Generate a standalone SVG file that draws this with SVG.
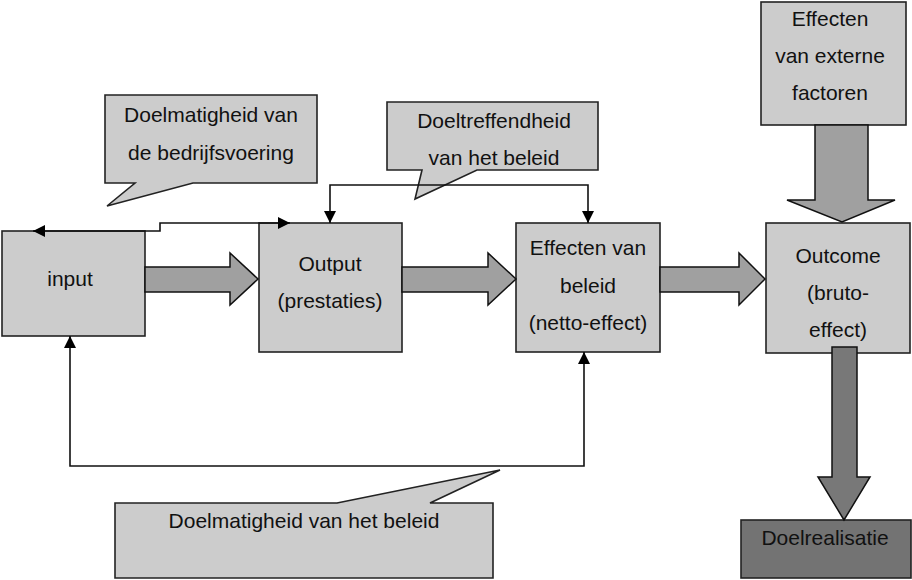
<svg xmlns="http://www.w3.org/2000/svg" width="912" height="580" viewBox="0 0 912 580">
<style>
.box{fill:#cccccc;stroke:#222;stroke-width:1.6}
.dark{fill:#737373;stroke:#222;stroke-width:1.6}
.fat{fill:#a0a0a0;stroke:#111;stroke-width:1.5}
.fatd{fill:#787878;stroke:#111;stroke-width:1.5}
.ln{fill:none;stroke:#111;stroke-width:1.6}
text{font-family:"Liberation Sans",Arial,sans-serif;font-size:21px;fill:#111;text-anchor:middle}
</style>
<defs>
<marker id="ah" viewBox="0 0 12 12" refX="12" refY="6" markerWidth="12" markerHeight="12" markerUnits="userSpaceOnUse" orient="auto-start-reverse">
<path d="M0,0 L12,6 L0,12 Z" fill="#000"/>
</marker>
</defs>
<rect width="912" height="580" fill="#fff"/>
<g id="input">
<rect class="box" x="2" y="231" width="143" height="105"/>
<text x="70" y="286">input</text>
</g>
<g id="output">
<rect class="box" x="259" y="223" width="143" height="129"/>
<text x="330" y="271">Output</text>
<text x="330" y="308">(prestaties)</text>
</g>
<g id="effecten">
<rect class="box" x="516" y="223" width="144" height="129"/>
<text x="588" y="255">Effecten van</text>
<text x="588" y="293">beleid</text>
<text x="588" y="330">(netto-effect)</text>
</g>
<g id="outcome">
<rect class="box" x="766" y="223" width="144" height="130"/>
<text x="838" y="263">Outcome</text>
<text x="838" y="300">(bruto-</text>
<text x="838" y="337">effect)</text>
</g>
<g id="extern">
<rect class="box" x="761" y="2" width="145" height="123"/>
<text x="830" y="26">Effecten</text>
<text x="830" y="63">van externe</text>
<text x="830" y="100">factoren</text>
</g>
<g id="doelrealisatie">
<rect class="dark" x="741" y="520" width="170" height="58"/>
<text x="825" y="545">Doelrealisatie</text>
</g>
<g id="callout-bedrijfsvoering">
<path class="box" d="M105,95 H317 V183 H193 L107,206 L135,183 H105 Z"/>
<text x="211" y="122">Doelmatigheid van</text>
<text x="211" y="160">de bedrijfsvoering</text>
</g>
<g id="callout-doeltreffendheid">
<path class="box" d="M387,102 H598 V170 H477 L415,199 L422,170 H387 Z"/>
<text x="494" y="128">Doeltreffendheid</text>
<text x="494" y="165">van het beleid</text>
</g>
<g id="callout-doelmatigheid-beleid">
<path class="box" d="M115,503 H337 L500,470 L430,503 H493 V578 H115 Z"/>
<text x="304" y="528">Doelmatigheid van het beleid</text>
</g>
<g id="connectors">
<path class="ln" d="M33,231 H160 V223 H290" marker-start="url(#ah)" marker-end="url(#ah)"/>
<path class="ln" d="M330,223 V185 H588 V223" marker-start="url(#ah)" marker-end="url(#ah)"/>
<path class="ln" d="M70,336 V466 H584 V352" marker-start="url(#ah)" marker-end="url(#ah)"/>
<polygon class="fat" points="145,267 230,267 230,253 258,279 230,305 230,292 145,292"/>
<polygon class="fat" points="402,267 488,267 488,253 516,279 488,305 488,292 402,292"/>
<polygon class="fat" points="660,267 739,267 739,253 765,279 739,305 739,292 660,292"/>
<polygon class="fat" points="815,125 868,125 868,200 895,200 842,222 787,200 815,200"/>
<polygon class="fatd" points="832,347 857,347 857,477 870,477 844,520 818,477 832,477"/>
</g>
</svg>
